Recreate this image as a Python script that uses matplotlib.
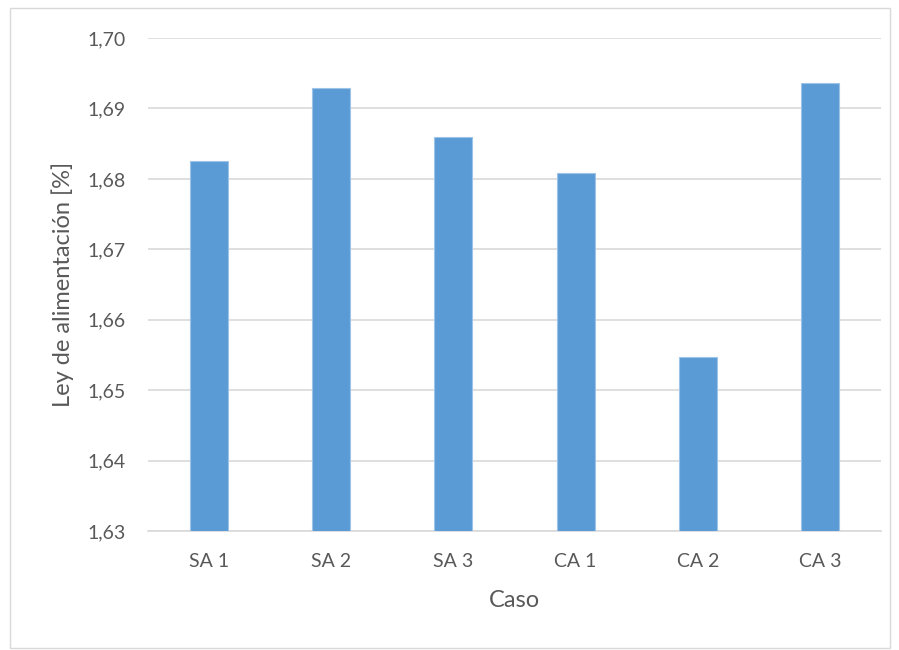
import matplotlib
matplotlib.use("Agg")
import matplotlib.pyplot as plt
from matplotlib.patches import Rectangle
from matplotlib.ticker import FuncFormatter

casos = ["SA 1", "SA 2", "SA 3", "CA 1", "CA 2", "CA 3"]
ley = [1.6825, 1.6929, 1.6860, 1.6808, 1.6547, 1.6936]
yticks = [1.63, 1.64, 1.65, 1.66, 1.67, 1.68, 1.69, 1.70]

plt.rcParams['font.family'] = ['Lato', 'DejaVu Sans']
gris = '#595959'

fig = plt.figure(figsize=(8.99, 6.5), dpi=100)
ax = fig.add_axes([0.1646, 0.183, 0.8154, 0.7585])

# marco exterior del grafico
fig.patches.append(Rectangle((0.011, 0.003), 0.979, 0.985, transform=fig.transFigure,
                             fill=False, edgecolor='#d9d9d9', linewidth=1.0))

ax.bar(range(len(casos)), ley, width=0.31, color='#5b9bd5', edgecolor='#9dc3e6',
       linewidth=0.8, zorder=3)

ax.set_ylim(1.63, 1.70)
ax.set_xlim(-0.5, len(casos) - 0.5)
ax.set_yticks(yticks)
ax.yaxis.set_major_formatter(FuncFormatter(lambda v, p: f"{v:.2f}".replace('.', ',')))
ax.set_xticks(range(len(casos)))
ax.set_xticklabels(casos)

ax.grid(axis='y', color='#d9d9d9', linewidth=1.2, zorder=0)
for s in ['top', 'right', 'left']:
    ax.spines[s].set_visible(False)
ax.spines['bottom'].set_color('#d9d9d9')
ax.spines['bottom'].set_linewidth(1.2)
ax.tick_params(axis='both', length=0, labelsize=14, colors=gris)
ax.tick_params(axis='x', pad=16)
ax.tick_params(axis='y', pad=16)

ax.set_xlabel("Caso", fontsize=17, color=gris, labelpad=14)
ax.set_ylabel("Ley de alimentación [%]", fontsize=17, color=gris, labelpad=10)

fig.savefig("out.png", dpi=100)
